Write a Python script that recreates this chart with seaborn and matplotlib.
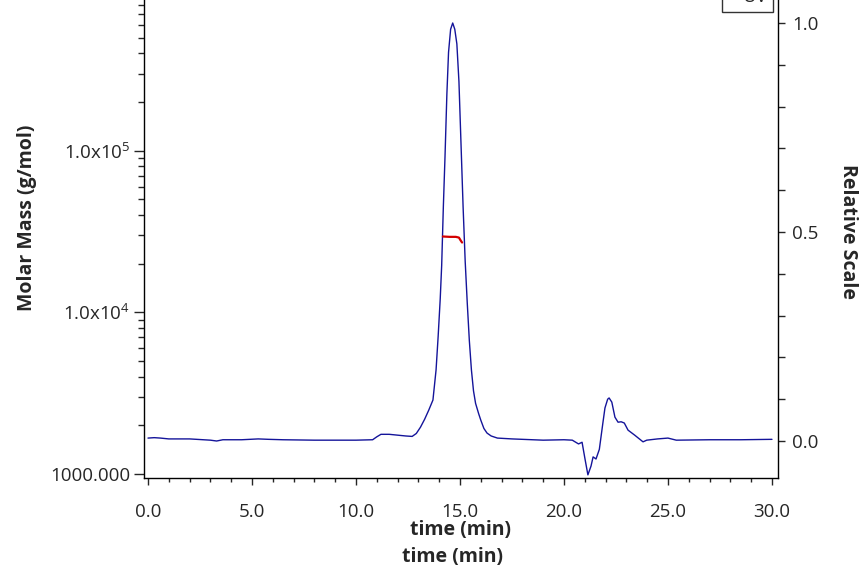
import numpy as np
import pandas as pd
import matplotlib
matplotlib.use("Agg")
import matplotlib.pyplot as plt
import seaborn as sns
from matplotlib.ticker import FixedLocator, FixedFormatter, MultipleLocator, LogLocator, NullFormatter

# ---------------- data ----------------
uv_time = [0.0, 0.3, 0.6, 1.0, 2.0, 3.0, 3.3, 3.6, 4.5, 5.3, 5.8, 6.5, 8.0, 10.0, 10.8,
           11.0, 11.2, 11.6, 12.0, 12.4, 12.7, 12.9, 13.1, 13.3, 13.5, 13.7, 13.85, 13.95,
           14.05, 14.12, 14.2, 14.28, 14.37, 14.45, 14.55, 14.65, 14.75, 14.85, 14.95,
           15.05, 15.15, 15.25, 15.35, 15.45, 15.55, 15.65, 15.75, 15.9, 16.0, 16.15, 16.3,
           16.5, 16.8, 17.5, 19.0, 20.0, 20.4, 20.7, 20.87, 21.0, 21.15, 21.3, 21.4, 21.54,
           21.7, 21.87, 21.97, 22.1, 22.17, 22.3, 22.45, 22.6, 22.75, 22.9, 23.08, 23.4,
           23.8, 23.98, 24.5, 25.0, 25.4, 27.0, 28.5, 30.0]
uv_signal = [0.007, 0.008, 0.007, 0.005, 0.005, 0.002, 0.000, 0.003, 0.003, 0.005, 0.004,
             0.003, 0.002, 0.002, 0.003, 0.010, 0.016, 0.016, 0.014, 0.012, 0.011, 0.018,
             0.033, 0.052, 0.074, 0.098, 0.17, 0.25, 0.34, 0.42, 0.56, 0.68, 0.83, 0.93,
             0.985, 1.0, 0.985, 0.95, 0.86, 0.71, 0.56, 0.43, 0.33, 0.24, 0.17, 0.12, 0.09,
             0.065, 0.05, 0.03, 0.019, 0.012, 0.007, 0.005, 0.002, 0.003, 0.002, -0.007,
             -0.003, -0.04, -0.081, -0.06, -0.038, -0.043, -0.02, 0.043, 0.079, 0.10, 0.103,
             0.093, 0.057, 0.045, 0.046, 0.043, 0.026, 0.014, -0.002, 0.002, 0.005, 0.007,
             0.002, 0.003, 0.003, 0.004]

mm_time = [14.18, 14.5, 14.8, 14.95, 15.02, 15.1]
mm_mass = [29450, 29300, 29300, 29000, 28000, 27030]

x_ticks = [0.0, 5.0, 10.0, 15.0, 20.0, 25.0, 30.0]
x_ticklabels = ["0.0", "5.0", "10.0", "15.0", "20.0", "25.0", "30.0"]
left_ticks = [1e3, 1e4, 1e5, 1e6]
left_ticklabels = ["1000.000", "1.0x10$^{4}$", "1.0x10$^{5}$", "1.0x10$^{6}$"]
right_ticks = [0.0, 0.5, 1.0]
right_ticklabels = ["0.0", "0.5", "1.0"]

uv_df = pd.DataFrame({"time": uv_time, "signal": uv_signal})
mm_df = pd.DataFrame({"time": mm_time, "mass": mm_mass})

# ---------------- style ----------------
sns.set_style("ticks")
FONT = ["Open Sans", "DejaVu Sans"]
plt.rcParams["font.family"] = FONT
plt.rcParams["mathtext.fontset"] = "custom"
plt.rcParams["mathtext.rm"] = "Open Sans"
plt.rcParams["mathtext.it"] = "Open Sans:italic"
plt.rcParams["mathtext.bf"] = "Open Sans:bold"

fig = plt.figure(figsize=(8.64, 5.76), dpi=100)
W, H = 864, 576
left_px, right_px, bottom_px, top_px = 144, 778, 478, -15
ax = fig.add_axes([left_px / W, 1 - bottom_px / H, (right_px - left_px) / W,
                   (bottom_px - top_px) / H])
ax2 = ax.twinx()

BLUE = "#14149a"
RED = "#d40000"

sns.lineplot(data=uv_df, x="time", y="signal", ax=ax2, color=BLUE, linewidth=1.0,
             label="UV", legend=False, sort=False)
sns.lineplot(data=mm_df, x="time", y="mass", ax=ax, color=RED, linewidth=1.6,
             legend=False, sort=False)

ax.set_zorder(ax2.get_zorder() + 1)
ax.patch.set_visible(False)

# x axis
ax.set_xlim(-0.192, 30.29)
ax.xaxis.set_major_locator(FixedLocator(x_ticks))
ax.xaxis.set_major_formatter(FixedFormatter(x_ticklabels))
ax.xaxis.set_minor_locator(MultipleLocator(1.0))

# left log axis
ax.set_yscale("log")
ax.set_ylim(944.7, 1.0586e6)
ax.yaxis.set_major_locator(FixedLocator(left_ticks))
ax.yaxis.set_major_formatter(FixedFormatter(left_ticklabels))
ax.yaxis.set_minor_locator(LogLocator(base=10, subs=np.arange(2, 10)))
ax.yaxis.set_minor_formatter(NullFormatter())

# right axis
ax2.set_ylim(-0.0885, 1.0909)
ax2.yaxis.set_major_locator(FixedLocator(right_ticks))
ax2.yaxis.set_major_formatter(FixedFormatter(right_ticklabels))
ax2.yaxis.set_minor_locator(MultipleLocator(0.1))

for a in (ax, ax2):
    a.set_xlabel("")
    a.set_ylabel("")
    a.spines["top"].set_visible(False)
    for s in a.spines.values():
        s.set_linewidth(1.0)
        s.set_color("black")

ax.spines["right"].set_visible(False)
ax2.spines["left"].set_visible(False)
ax2.spines["bottom"].set_visible(False)

TS = 13.5
ax.tick_params(axis="x", which="major", direction="out", length=5, width=1,
               pad=13, labelsize=TS)
ax.tick_params(axis="x", which="minor", direction="out", length=3, width=1)
ax.tick_params(axis="y", which="major", direction="out", length=7, width=1,
               pad=3, labelsize=TS)
ax.tick_params(axis="y", which="minor", direction="out", length=4, width=1)
ax2.tick_params(axis="y", which="major", direction="out", length=5, width=1,
                pad=5, labelsize=TS)
ax2.tick_params(axis="y", which="minor", direction="out", length=5, width=1)

# labels
LS = 14
fig.text(27 / W, 1 - 218 / H, "Molar Mass (g/mol)", rotation=90, ha="center",
         va="center", fontsize=LS, fontweight="bold")
fig.text(848 / W, 1 - 231 / H, "Relative Scale", rotation=270, ha="center",
         va="center", fontsize=LS, fontweight="bold")
fig.text(460 / W, 1 - 530 / H, "time (min)", ha="center", va="center",
         fontsize=LS, fontweight="bold")
fig.text(453 / W, 1 - 557 / H, "time (min)", ha="center", va="center",
         fontsize=LS, fontweight="bold")

# legend
handles, labels = ax2.get_legend_handles_labels()
leg = fig.legend(handles, labels, loc="lower right",
                 bbox_to_anchor=(773 / W, 1 - 12 / H), bbox_transform=fig.transFigure,
                 frameon=True, fancybox=False, fontsize=TS, handlelength=0.5,
                 handletextpad=0.3, borderpad=0.3, borderaxespad=0.0)
leg.get_frame().set_edgecolor("black")
leg.get_frame().set_linewidth(1.0)

fig.savefig("out.png", dpi=100)
